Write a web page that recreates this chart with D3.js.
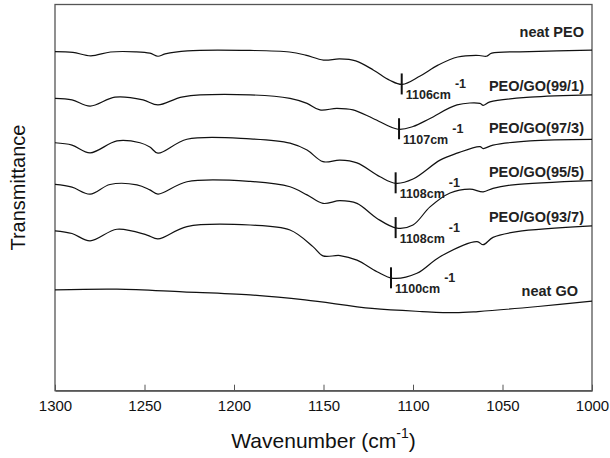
<!DOCTYPE html>
<html>
<head>
<meta charset="utf-8">
<script src="https://cdn.jsdelivr.net/npm/d3@7"></script>
<style>
  body { margin: 0; background: #fff; }
  svg { display: block; font-family: "Liberation Sans", Arial, sans-serif; }
</style>
</head>
<body>
<div id="chart"></div>
<script>
//----------data (transmittance in offset a.u.)---------
const seriesNames = ["neat PEO", "PEO/GO(99/1)", "PEO/GO(97/3)", "PEO/GO(95/5)", "PEO/GO(93/7)", "neat GO"];

const neatPEO = [
  [1300, 87.8], [1290, 87.6], [1280, 86.7], [1269, 87.7], [1255, 87.75], [1247, 87.4],
  [1242.5, 86.6], [1238.5, 87.2], [1226, 88.0], [1191, 88.1], [1169, 87.7], [1160, 86.9],
  [1150, 85.6], [1141, 85.9], [1132, 85.4], [1122, 83.0], [1113, 80.4], [1106, 79.3],
  [1096, 81.5], [1086, 84.3], [1075, 86.4], [1063, 86.8], [1059, 86.6], [1056, 87.4],
  [1035, 87.8], [1000, 88.2]
];
const peoGO99 = [
  [1300, 75.7], [1290.5, 75.3], [1280.4, 73.7], [1266.5, 76.0], [1250.8, 75.3], [1242.5, 74.0],
  [1228.5, 76.1], [1191, 76.6], [1168.7, 75.7], [1159.2, 74.4], [1152, 72.7], [1142.5, 73.1],
  [1133.5, 72.7], [1122.3, 70.5], [1108.4, 67.7], [1100, 68.4], [1090.5, 70.5], [1075.4, 74.0],
  [1062.6, 74.4], [1060.8, 73.9], [1057, 74.8], [1034.6, 76.0], [1000, 76.6]
];
const peoGO97 = [
  [1300, 64.2], [1290.5, 63.6], [1280.4, 61.6], [1265.4, 64.7], [1252.5, 64.2], [1247, 63.1],
  [1242.5, 61.5], [1226.3, 65.1], [1191, 65.2], [1168.7, 64.1], [1159.2, 62.3], [1150.3, 59.3],
  [1140.8, 59.7], [1131.3, 59.0], [1118.4, 55.4], [1109.5, 53.7], [1100, 54.8], [1084.9, 59.7],
  [1075.4, 61.5], [1062.6, 63.2], [1060.8, 62.7], [1055.3, 63.6], [1034.6, 64.7], [1000, 65.1]
];
const peoGO95 = [
  [1300, 53.4], [1290.5, 52.7], [1280.4, 50.9], [1269.3, 53.4], [1254.2, 53.3], [1247, 52.0],
  [1242.5, 50.9], [1226.3, 54.1], [1191, 54.2], [1168.7, 52.8], [1159.2, 50.7], [1150.3, 48.5],
  [1140.8, 49.2], [1131.3, 48.5], [1120.1, 44.6], [1109, 42.1], [1100, 42.9], [1090.5, 47.6],
  [1079.3, 51.2], [1068.2, 52.2], [1060.8, 51.5], [1055.3, 52.4], [1044.1, 53.3], [1000, 54.4]
];
const peoGO93 = [
  [1300, 41.4], [1290.5, 40.7], [1280.4, 38.8], [1265.4, 41.8], [1248.6, 40.3], [1242.5, 39.3],
  [1226.3, 42.5], [1191, 42.9], [1168.7, 41.6], [1155.9, 37.3], [1150.3, 34.9], [1140.8, 35.0],
  [1131.3, 33.8], [1120.1, 30.8], [1111.2, 29.1], [1097.8, 30.4], [1084.9, 34.7], [1064.2, 38.6],
  [1060.8, 37.8], [1055.3, 39.7], [1041.9, 41.2], [1000, 42.7]
];
const neatGO = [
  [1300, 26.1], [1265.4, 26.3], [1228.5, 25.6], [1191, 24.8], [1160.3, 23.5], [1122.9, 21.3],
  [1094.9, 20.5], [1076.5, 20.2], [1063.7, 20.5], [1030.2, 21.8], [1000, 23.2]
];
const allSeries = [neatPEO, peoGO99, peoGO97, peoGO95, peoGO93, neatGO];

// band minimum markers (where the bar sits) and the value printed next to it
const peakPos = [1106.3, 1107.8, 1109.7, 1109.7, 1112.3];
const peakText = ["1106", "1107", "1108", "1108", "1100"];

const xTicks = [1300, 1250, 1200, 1150, 1100, 1050, 1000];

//----------layout----------
const width = 610, height = 458;
const margin = {top: 4.5, right: 18, bottom: 67.3, left: 55};
const labelDy = [-13, -4, -6, -4, -4, -5];   // label baseline relative to right end of curve
const labelX = [584, 584, 584, 584, 584, 578];

const svg = d3.select("#chart").append("svg")
  .attr("width", width)
  .attr("height", height);

const x = d3.scaleLinear()
  .domain([1300, 1000])
  .range([margin.left, width - margin.right]);

const y = d3.scaleLinear()
  .domain([0, 100])
  .range([height - margin.bottom, margin.top]);

// frame
svg.append("rect")
  .attr("x", margin.left)
  .attr("y", margin.top)
  .attr("width", width - margin.left - margin.right)
  .attr("height", height - margin.top - margin.bottom)
  .attr("fill", "none")
  .attr("stroke", "#555")
  .attr("stroke-width", 1.3);

// bottom axis, ticks pointing in
const xAxis = d3.axisBottom(x)
  .tickValues(xTicks)
  .tickFormat(d3.format("d"))
  .tickSizeInner(-6)
  .tickSizeOuter(0)
  .tickPadding(10);

const gx = svg.append("g")
  .attr("transform", `translate(0,${height - margin.bottom})`)
  .call(xAxis);
gx.select(".domain").attr("stroke", "#555").attr("stroke-width", 1.3);
gx.selectAll(".tick line").attr("stroke", "#555").attr("stroke-width", 1);
gx.selectAll(".tick text")
  .attr("fill", "#111")
  .style("font-size", "15px")
  .style("font-family", "Liberation Sans, Arial, sans-serif");

// spectra
const line = d3.line()
  .x(d => x(d[0]))
  .y(d => y(d[1]))
  .curve(d3.curveCatmullRom.alpha(0.5));

svg.append("g")
  .selectAll("path")
  .data(allSeries)
  .join("path")
  .attr("d", line)
  .attr("fill", "none")
  .attr("stroke", "#111")
  .attr("stroke-width", 1.2);

// series labels
svg.append("g")
  .selectAll("text")
  .data(seriesNames)
  .join("text")
  .attr("x", (d, i) => labelX[i])
  .attr("y", (d, i) => y(allSeries[i][allSeries[i].length - 1][1]) + labelDy[i])
  .attr("text-anchor", "end")
  .attr("font-weight", "bold")
  .style("font-size", "14.5px")
  .attr("fill", "#222")
  .text(d => d);

// peak markers
peakPos.forEach((w, i) => {
  let yMin = y(d3.min(allSeries[i], d => d[1]));
  let px = x(w);
  svg.append("line")
    .attr("x1", px).attr("x2", px)
    .attr("y1", yMin - 11).attr("y2", yMin + 10)
    .attr("stroke", "#111")
    .attr("stroke-width", 2);
  let t = svg.append("text")
    .attr("x", px + 4)
    .attr("y", yMin + 15)
    .attr("font-weight", "bold")
    .style("font-size", "12.5px")
    .attr("fill", "#222");
  t.append("tspan").text(peakText[i] + "cm");
  t.append("tspan").attr("dx", 4).attr("dy", -11).text("-1");
});

// axis titles
let xt = svg.append("text")
  .attr("x", (margin.left + width - margin.right) / 2)
  .attr("y", 448)
  .attr("text-anchor", "middle")
  .style("font-size", "21px")
  .attr("fill", "#111");
xt.append("tspan").text("Wavenumber (cm");
xt.append("tspan").attr("dy", -10).style("font-size", "14px").text("-1");
xt.append("tspan").attr("dy", 10).text(")");

svg.append("text")
  .attr("transform", `translate(25,${(margin.top + height - margin.bottom) / 2 - 10}) rotate(-90)`)
  .attr("text-anchor", "middle")
  .style("font-size", "20px")
  .attr("fill", "#111")
  .text("Transmittance");
</script>
</body>
</html>
